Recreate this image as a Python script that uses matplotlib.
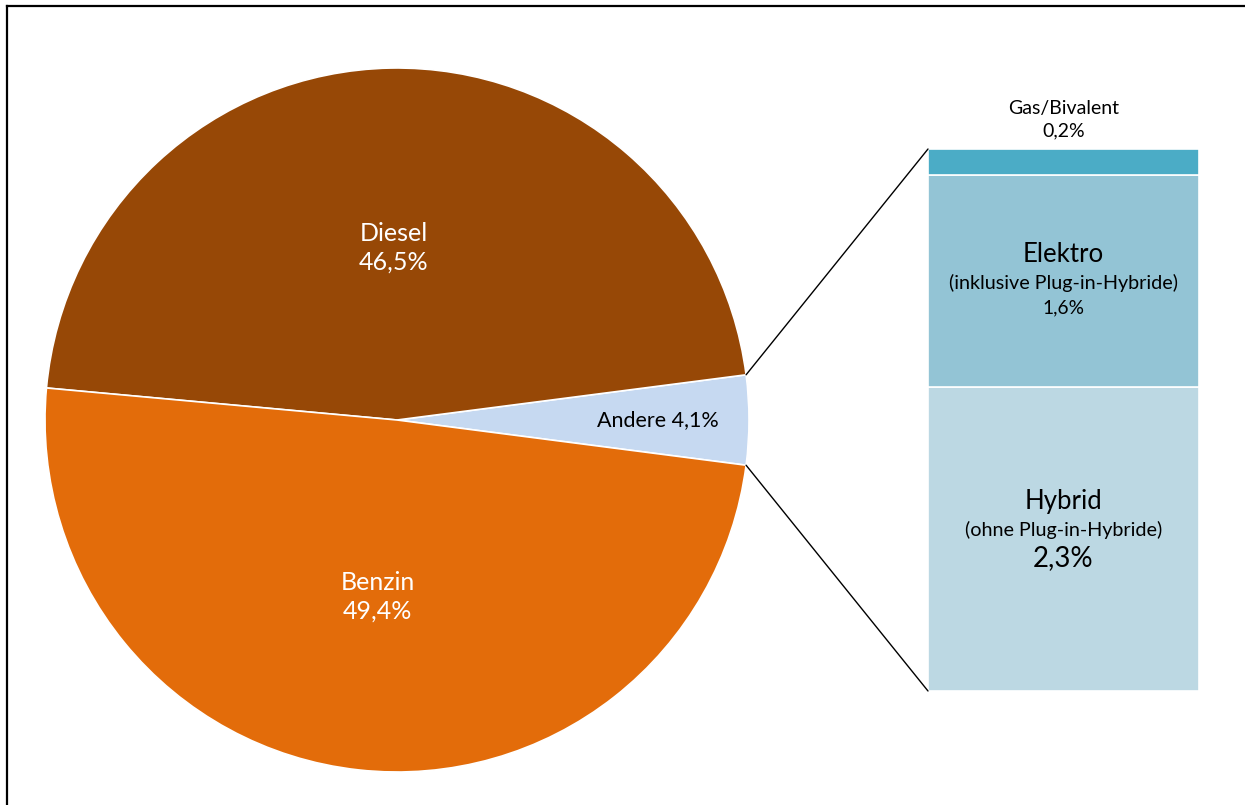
import numpy as np
import matplotlib
matplotlib.use("Agg")
import matplotlib.pyplot as plt
from matplotlib.patches import ConnectionPatch
from matplotlib.lines import Line2D

plt.rcParams['font.family'] = ['Lato', 'DejaVu Sans']

# Data
pie_labels = ["Andere", "Diesel", "Benzin"]
pie_values = [4.1, 46.5, 49.4]
pie_colors = ["#C6D9F1", "#974806", "#E36C0A"]

bar_labels = ["Hybrid", "Elektro", "Gas/Bivalent"]
bar_subs = ["(ohne Plug-in-Hybride)", "(inklusive Plug-in-Hybride)", ""]
bar_values = [2.3, 1.6, 0.2]
bar_colors = ["#BCD8E3", "#93C4D5", "#4BACC6"]

def fmt(v):
    return f"{v:.1f}".replace(".", ",") + "%"

W, H = 1245, 805
fig = plt.figure(figsize=(W / 100, H / 100), dpi=100)

# Pie axes
cx, cy, r = 397, 420, 352
ax = fig.add_axes([(cx - r) / W, (H - cy - r) / H, 2 * r / W, 2 * r / H])
start = -pie_values[0] / sum(pie_values) * 360 / 2
wedges, _ = ax.pie(pie_values, colors=pie_colors, startangle=start, counterclock=True,
                   radius=1, wedgeprops=dict(edgecolor="white", linewidth=1.2))
ax.set_xlim(-1, 1)
ax.set_ylim(-1, 1)
ax.set_aspect("auto")
ax.axis("off")

def mid(w):
    return np.deg2rad((w.theta1 + w.theta2) / 2)

# Labels in the pie
a = mid(wedges[1])
ax.text(0.5 * np.cos(a), 0.49 * np.sin(a), f"{pie_labels[1]}\n{fmt(pie_values[1])}",
        ha="center", va="center", color="white", fontsize=18, linespacing=1.3)
a = mid(wedges[2])
ax.text(0.5 * np.cos(a), 0.5 * np.sin(a) - 0.005, f"{pie_labels[2]}\n{fmt(pie_values[2])}",
        ha="center", va="center", color="white", fontsize=18, linespacing=1.3)
a = mid(wedges[0])
ax.text(0.74 * np.cos(a), 0.74 * np.sin(a), f"{pie_labels[0]} {fmt(pie_values[0])}",
        ha="center", va="center", color="black", fontsize=15.5)

# Bar axes
bx0, bx1, by0, by1 = 928, 1199, 149, 691
ax2 = fig.add_axes([bx0 / W, (H - by1) / H, (bx1 - bx0) / W, (by1 - by0) / H])
total = sum(bar_values)
bottom = 0
centers = []
for v, c in zip(bar_values, bar_colors):
    ax2.bar(0.5, v, width=1, bottom=bottom, color=c, edgecolor="white", linewidth=1.2)
    centers.append(bottom + v / 2)
    bottom += v
ax2.set_xlim(0, 1)
ax2.set_ylim(0, total)
ax2.axis("off")

def lab(text, y, dy, size):
    ax2.annotate(text, (0.5, y), xytext=(0, dy), textcoords="offset points",
                 ha="center", va="center", fontsize=size)

# Hybrid
lab(bar_labels[0], centers[0], 27, 18.5)
lab(bar_subs[0], centers[0], 6.5, 14.2)
lab(fmt(bar_values[0]), centers[0], -13.5, 20)
# Elektro
lab(bar_labels[1], centers[1], 19.5, 18.5)
lab(bar_subs[1], centers[1], -1.5, 14.2)
lab(fmt(bar_values[1]), centers[1], -19, 13.8)
# Gas
lab(bar_labels[2], total, 29, 14)
lab(fmt(bar_values[2]), total, 13, 14)

# Connection lines
t1 = np.deg2rad(wedges[0].theta1)
t2 = np.deg2rad(wedges[0].theta2)
con1 = ConnectionPatch(xyA=(np.cos(t2), np.sin(t2)), coordsA=ax.transData,
                       xyB=(0, total), coordsB=ax2.transData, color="black", linewidth=1)
con2 = ConnectionPatch(xyA=(np.cos(t1), np.sin(t1)), coordsA=ax.transData,
                       xyB=(0, 0), coordsB=ax2.transData, color="black", linewidth=1)
fig.add_artist(con1)
fig.add_artist(con2)

# Frame (left and top)
fx, fy = 6.5 / W, 1 - 6.5 / H
fig.add_artist(Line2D([fx, fx], [0, fy], transform=fig.transFigure, color="black", linewidth=1.6))
fig.add_artist(Line2D([fx, 1], [fy, fy], transform=fig.transFigure, color="black", linewidth=1.6))

fig.savefig("out.png", dpi=100)
